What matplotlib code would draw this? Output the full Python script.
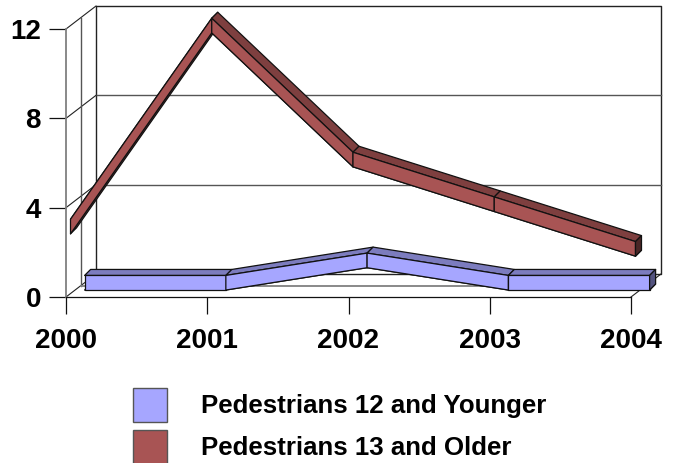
import matplotlib
matplotlib.use('Agg')
import matplotlib.pyplot as plt
from matplotlib.patches import Polygon, Rectangle

plt.rcParams['font.family'] = ['Liberation Sans', 'DejaVu Sans']

# data
YEARS = ['2000', '2001', '2002', '2003', '2004']
YOUNGER = [0, 0, 1, 0, 0]
OLDER = [3, 12, 6, 4, 2]
YTICKS = [0, 4, 8, 12]
LABEL_YOUNGER = 'Pedestrians 12 and Younger'
LABEL_OLDER = 'Pedestrians 13 and Older'

# style
W, H = 676, 463
X0, X1, Y0, Y1 = 66, 631, 297, 29   # front plane in pixels
PX_X = (X1 - X0) / (len(YEARS) - 1)
PX_Y = (Y0 - Y1) / YTICKS[-1]
DEPTH_X = 30 / PX_X                 # wall depth in data units
DEPTH_Y = 23 / PX_Y
HALF = 7.3 / PX_Y                   # half height of a ribbon
THICK_X = 6 / PX_X                  # ribbon thickness
THICK_Y = 6 / PX_Y
GRID = '#555555'

BLUE = dict(front='#A6A6FF', top='#7C7CBE', end='#53537F')
RED = dict(front='#A85454', top='#7E3F3F', end='#4A2626')


def proj(x, y, d):
    """Front-plane data position moved back by depth d (0..1)."""
    return x + d * DEPTH_X, y + d * DEPTH_Y


def rear(x, y, d):
    """Same point on the rear side of a ribbon."""
    px, py = proj(x, y, d)
    return px + THICK_X, py + THICK_Y


def draw_walls(ax):
    n = len(YEARS) - 1
    top = YTICKS[-1]
    back = [proj(0, 0, 1), proj(n, 0, 1), proj(n, top, 1), proj(0, top, 1), proj(0, 0, 1)]
    ax.plot(*zip(*back), color='#222222', lw=1, clip_on=False, zorder=1)
    for v in YTICKS[1:-1]:
        ax.plot(*zip(proj(0, v, 1), proj(n, v, 1)), color=GRID, lw=1, clip_on=False, zorder=1)
    # side wall ticks
    for v in YTICKS:
        ax.plot(*zip(proj(0, v, 0), proj(0, v, 1)), color='#222222', lw=0.8, clip_on=False, zorder=1)
    ax.plot(*zip(proj(n, 0, 0), proj(n, 0, 1)), color='#222222', lw=0.8, clip_on=False, zorder=1)
    # wall seam half way back
    ax.plot(*zip(proj(0, 0, 0.5), proj(0, top, 0.5)), color=GRID, lw=1, clip_on=False, zorder=1)
    ax.plot(*zip(proj(0, 0, 0.5), proj(n, 0, 0.5)), color='#808080', lw=1.3, clip_on=False, zorder=1)


def face(ax, pts, color, z):
    ax.add_patch(Polygon(pts, closed=True, facecolor=color, edgecolor='#111111',
                         lw=0.9, clip_on=False, zorder=z, joinstyle='round'))


def draw_ribbon(ax, values, depth, colors, z):
    xs = range(len(values))
    for x, a, b in zip(xs, values[:-1], values[1:]):
        x2 = x + 1
        face(ax, [proj(x, a - HALF, depth), proj(x2, b - HALF, depth),
                  rear(x2, b - HALF, depth), rear(x, a - HALF, depth)],
             colors['front'], z)
        face(ax, [proj(x, a + HALF, depth), proj(x2, b + HALF, depth),
                  rear(x2, b + HALF, depth), rear(x, a + HALF, depth)],
             colors['top'], z + 0.1)
    for x, a, b in zip(xs, values[:-1], values[1:]):
        x2 = x + 1
        face(ax, [proj(x, a + HALF, depth), proj(x2, b + HALF, depth),
                  proj(x2, b - HALF, depth), proj(x, a - HALF, depth)],
             colors['front'], z + 0.2)
    last = len(values) - 1
    v = values[-1]
    face(ax, [proj(last, v + HALF, depth), proj(last, v - HALF, depth),
              rear(last, v - HALF, depth), rear(last, v + HALF, depth)],
         colors['end'], z + 0.3)


fig = plt.figure(figsize=(W / 100, H / 100), dpi=100)
ax = fig.add_axes([X0 / W, 1 - Y0 / H, (X1 - X0) / W, (Y0 - Y1) / H])
ax.patch.set_visible(False)
ax.set_xlim(0, len(YEARS) - 1)
ax.set_ylim(0, YTICKS[-1])

draw_walls(ax)
draw_ribbon(ax, YOUNGER, 0.62, BLUE, 3)
draw_ribbon(ax, OLDER, 0.15, RED, 4)

ax.set_xticks(range(len(YEARS)), YEARS)
ax.set_yticks(YTICKS)
ax.tick_params(axis='x', length=12, width=0.9, pad=10, labelsize=20, color='#111111')
ax.tick_params(axis='y', length=12, width=0.9, pad=6, labelsize=20, color='#111111')
for lab in ax.get_xticklabels() + ax.get_yticklabels():
    lab.set_fontweight('bold')
ax.xaxis.get_major_ticks()[0].tick1line.set_color('#808080')
for name in ('top', 'right'):
    ax.spines[name].set_visible(False)
ax.spines['left'].set_color('#808080')
ax.spines['left'].set_linewidth(1.3)
ax.spines['left'].set_zorder(2)
ax.spines['bottom'].set_color('#111111')
ax.spines['bottom'].set_linewidth(0.9)
ax.spines['bottom'].set_zorder(2)

# legend placed by hand, rows are 42 px apart
for label, colors, top in ((LABEL_YOUNGER, BLUE, 388), (LABEL_OLDER, RED, 430)):
    fig.add_artist(Rectangle((133 / W, 1 - (top + 34) / H), 34 / W, 34 / H,
                             transform=fig.transFigure, facecolor=colors['front'],
                             edgecolor='#555555', lw=1))
    fig.text(201 / W, 1 - (top + 18) / H, label, fontsize=18.6, fontweight='bold',
             ha='left', va='center', color='black')

fig.savefig('out.png', dpi=100)
